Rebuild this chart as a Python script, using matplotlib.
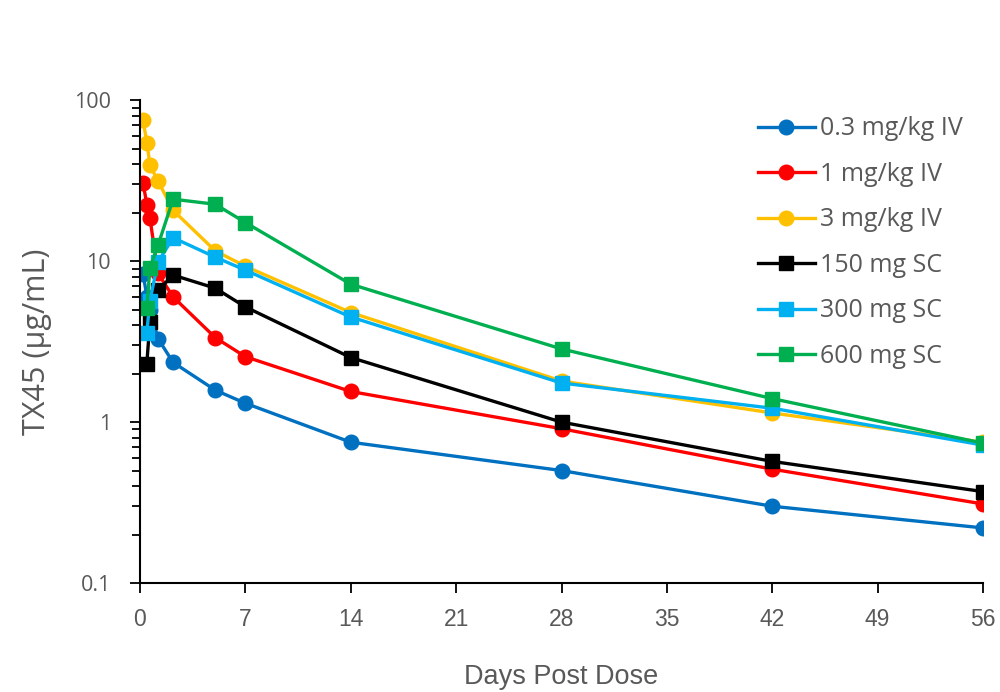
import matplotlib
matplotlib.use("Agg")
import matplotlib.pyplot as plt
from matplotlib.ticker import LogLocator, FixedLocator, NullFormatter

plt.rcParams["font.family"] = ["Open Sans", "DejaVu Sans"]

GRAY = "#595959"

# days post dose
iv_days = [0.2, 0.47, 0.66, 1.2, 2.2, 5, 7, 14, 28, 42, 56]
sc_days = [0.45, 0.66, 1.2, 2.2, 5, 7, 14, 28, 42, 56]

# TX45 concentration (ug/mL)
iv_03 = [8.3, 6.0, 5.0, 3.3, 2.35, 1.58, 1.31, 0.75, 0.50, 0.30, 0.22]
iv_1 = [30.5, 22.3, 18.5, 8.4, 6.0, 3.35, 2.55, 1.55, 0.91, 0.51, 0.31]
iv_3 = [75.0, 54.0, 39.5, 31.5, 20.7, 11.6, 9.3, 4.8, 1.8, 1.14, 0.75]
sc_150 = [2.3, 4.2, 6.6, 8.2, 6.8, 5.2, 2.52, 1.0, 0.57, 0.37]
sc_300 = [3.6, 5.7, 9.9, 14.0, 10.6, 8.8, 4.5, 1.75, 1.22, 0.72]
sc_600 = [5.1, 9.1, 12.6, 24.3, 22.6, 17.4, 7.2, 2.85, 1.4, 0.74]

series = [
    ("0.3 mg/kg IV", iv_days, iv_03, "#0070C0", "o"),
    ("1 mg/kg IV", iv_days, iv_1, "#FF0000", "o"),
    ("3 mg/kg IV", iv_days, iv_3, "#FFC000", "o"),
    ("150 mg SC", sc_days, sc_150, "#000000", "s"),
    ("300 mg SC", sc_days, sc_300, "#00B0F0", "s"),
    ("600 mg SC", sc_days, sc_600, "#00B050", "s"),
]
x_ticks = [0, 7, 14, 21, 28, 35, 42, 49, 56]

fig = plt.figure(figsize=(10, 6.92), dpi=100)
ax = fig.add_axes([0.140, 0.1575, 0.843, 0.6975])

for label, days, vals, color, marker in series:
    ax.plot(days, vals, color=color, marker=marker, lw=2.4,
            markersize=10.5 if marker == "o" else 10, label=label)

ax.set_yscale("log")
ax.set_ylim(0.1, 100)
ax.set_xlim(0, 56)
ax.yaxis.set_major_locator(FixedLocator([0.1, 1, 10, 100]))
ax.set_yticklabels(["0.1", "1", "10", "100"])
ax.yaxis.set_minor_locator(LogLocator(base=10, subs=range(2, 10)))
ax.yaxis.set_minor_formatter(NullFormatter())
ax.set_xticks(x_ticks)
ax.set_xticklabels([str(t) for t in x_ticks],
                   family=["Liberation Sans Narrow", "Liberation Sans"])

for s in ["top", "right"]:
    ax.spines[s].set_visible(False)
for s in ["left", "bottom"]:
    ax.spines[s].set_linewidth(1.5)
    ax.spines[s].set_color("black")

ax.tick_params(axis="y", which="major", length=7, width=1.3, labelsize=15.5,
               labelcolor=GRAY, pad=14)
ax.tick_params(axis="y", which="minor", length=6, width=1.3)
ax.tick_params(axis="x", length=7, width=1.3, labelsize=16.5,
               labelcolor=GRAY, pad=11)

ax.set_xlabel("Days Post Dose", fontsize=19.5, color=GRAY, labelpad=24,
              family=["Liberation Sans Narrow", "Liberation Sans"])
ax.set_ylabel("TX45 (µg/mL)", fontsize=22, color=GRAY, labelpad=16)

leg = ax.legend(loc="upper left", bbox_to_anchor=(0.745, 0.85),
                bbox_transform=fig.transFigure, frameon=False,
                fontsize=18, handlelength=2.3, handletextpad=0.2,
                labelspacing=0.82, borderpad=0)
for t in leg.get_texts():
    t.set_color(GRAY)

fig.savefig("out.png", dpi=100)
